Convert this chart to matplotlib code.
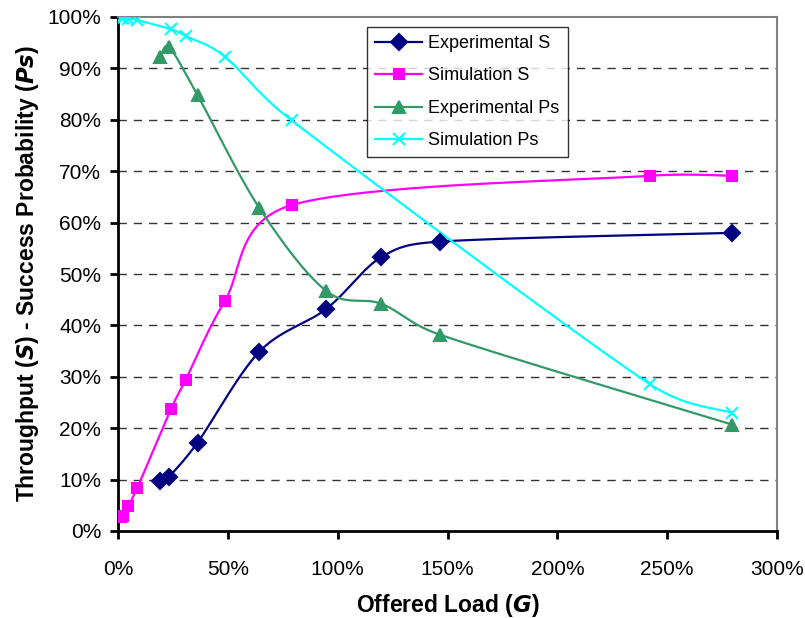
import numpy as np
import matplotlib
matplotlib.use("Agg")
import matplotlib.pyplot as plt
from matplotlib.lines import Line2D
from matplotlib.ticker import PercentFormatter

plt.rcParams['font.family'] = ['Liberation Sans', 'DejaVu Sans']

# offered load G (%) and values (%)
exp_g = [19.2, 23.2, 36.2, 64.4, 94.8, 119.9, 146.5, 279.6]
exp_s = [9.8, 10.6, 17.2, 34.9, 43.2, 53.3, 56.3, 58.0]
exp_ps = [92.3, 94.2, 84.8, 62.8, 46.7, 44.2, 38.2, 20.7]

sim_g = [1.2, 2.4, 4.7, 8.8, 24.2, 30.8, 48.6, 79.0, 242.0, 279.5]
sim_s = [2.8, 2.9, 4.8, 8.4, 23.8, 29.4, 44.7, 63.4, 69.1, 69.1]
sim_ps = [99.9, 99.8, 99.7, 99.4, 97.6, 96.3, 92.3, 79.9, 28.6, 23.0]

# pixel scale of the plot area, used so the smoothing works like excel's (in screen space)
PX_X = 659 / 300.0
PX_Y = 514 / 100.0


def smooth(xs, ys, n=40, clip=0.5):
    # excel-like smoothed line: bezier segments, catmull-rom control points,
    # control arm clipped to a share of the segment length
    p = np.column_stack([np.array(xs) * PX_X, np.array(ys) * PX_Y])
    out = []
    for i in range(len(p) - 1):
        p0 = p[i - 1] if i > 0 else p[i]
        p1, p2 = p[i], p[i + 1]
        p3 = p[i + 2] if i + 2 < len(p) else p[i + 1]
        seg_len = np.hypot(*(p2 - p1))
        a1 = (p2 - p0) / 6.0
        a2 = (p3 - p1) / 6.0
        for a in (a1, a2):
            l = np.hypot(*a)
            if l > clip * seg_len:
                a *= clip * seg_len / l
        c1 = p1 + a1
        c2 = p2 - a2
        t = np.linspace(0, 1, n)[:, None]
        seg = ((1 - t) ** 3) * p1 + 3 * ((1 - t) ** 2) * t * c1 + 3 * (1 - t) * t ** 2 * c2 + t ** 3 * p2
        out.append(seg)
    out = np.vstack(out)
    return out[:, 0] / PX_X, out[:, 1] / PX_Y


fig = plt.figure(figsize=(8.05, 6.18), dpi=100)
ax = fig.add_axes([118 / 805, 1 - 531 / 618, (777 - 118) / 805, (531 - 17) / 618])

series = [
    (exp_g, exp_s, '#000080', 'D', 8, 'Experimental S'),
    (sim_g, sim_s, '#FF00FF', 's', 7.5, 'Simulation S'),
    (exp_g, exp_ps, '#339966', '^', 9, 'Experimental Ps'),
    (sim_g, sim_ps, '#00FFFF', 'x', 8.5, 'Simulation Ps'),
]
handles = []
for xs, ys, col, mk, ms, name in series:
    sx, sy = smooth(xs, ys)
    ax.plot(sx, sy, color=col, lw=1.6, zorder=3)
    ax.plot(xs, ys, ls='none', marker=mk, ms=ms, color=col, mec=col, mew=1.5, zorder=4)
    handles.append(Line2D([], [], color=col, lw=1.6, marker=mk, ms=ms, mec=col, mew=1.5, label=name))

ax.set_xlim(0, 300)
ax.set_ylim(0, 100)
ax.set_xticks(np.arange(0, 301, 50))
ax.set_yticks(np.arange(0, 101, 10))
ax.xaxis.set_major_formatter(PercentFormatter(decimals=0))
ax.yaxis.set_major_formatter(PercentFormatter(decimals=0))
ax.tick_params(direction='out', length=6, width=2, labelsize=15, colors='black')
ax.tick_params(axis='x', pad=15)
ax.tick_params(axis='y', pad=6)
for y in range(10, 100, 10):
    ax.axhline(y, color='#333333', lw=1, ls=(0, (6, 5)), zorder=1)

for side in ['left', 'bottom']:
    ax.spines[side].set_color('black')
    ax.spines[side].set_linewidth(2)
for side in ['top', 'right']:
    ax.spines[side].set_color('#808080')
    ax.spines[side].set_linewidth(1.5)

ax.set_xlabel('Offered Load ($\\bfit{G}$)', fontsize=16.5, fontweight='bold', labelpad=9)
ax.set_ylabel('Throughput ($\\bfit{S}$) - Success Probability ($\\bfit{Ps}$)', fontsize=16.5,
              fontweight='bold', labelpad=5)

leg = ax.legend(handles=handles, loc='upper left', bbox_to_anchor=((367 - 118) / 659, (531 - 27) / 514),
                borderaxespad=0, fontsize=13, frameon=True, fancybox=False, edgecolor='black',
                handlelength=2.6, labelspacing=0.85, borderpad=0.45, handletextpad=0.35)
leg.get_frame().set_linewidth(1)

fig.savefig('out.png', dpi=100)
